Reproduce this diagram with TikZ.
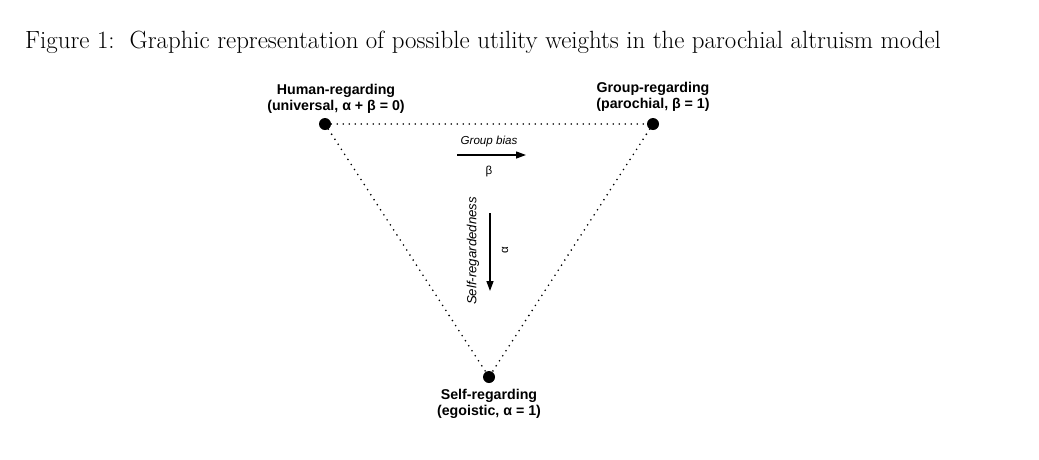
\documentclass[tikz,border=0pt]{standalone}
\usepackage{fontspec}
\newfontfamily\lab{Liberation Sans}
\usetikzlibrary{arrows.meta}
\tikzset{
  vertex/.style={circle,fill=black,inner sep=0pt,minimum size=12pt},
  lbl/.style={font=\lab\bfseries\fontsize{14.2}{16.5}\selectfont,align=center,inner sep=0pt},
  small/.style={font=\lab\fontsize{11.6}{13}\selectfont,inner sep=0pt},
  edge/.style={line width=1.8pt,line cap=round,dash pattern=on 0pt off 6pt},
  arr/.style={line width=1.3pt,-{Triangle[length=10pt,width=7pt]}}
}
\begin{document}
\begin{tikzpicture}[x=1pt,y=-1pt]
\useasboundingbox (0,0) rectangle (1039,459);
\node[anchor=base west,inner sep=0pt,font=\fontsize{24.9}{30}\selectfont] (title) at (25,48) {Figure 1:\ \ Graphic representation of possible utility weights in the parochial altruism model};
\node[vertex] (h) at (325,124) {};
\node[vertex] (g) at (653,124) {};
\node[vertex] (s) at (489,377) {};
\draw[edge] (h) -- (g);
\draw[edge] (h) -- (s);
\draw[edge] (g) -- (s);
\node[lbl] (hl) at (336,99) {Human-regarding\\(universal, α + β = 0)};
\node[lbl] (gl) at (653,97) {Group-regarding\\(parochial, β = 1)};
\node[lbl] (sl) at (489,404) {Self-regarding\\(egoistic, α = 1)};
\node[small,font=\lab\itshape\fontsize{11.6}{13}\selectfont] (gb) at (489,141) {Group bias};
\coordinate (ga) at (457,155);
\coordinate (gb2) at (526,155);
\draw[arr] (ga) -- (gb2);
\node[small] (beta) at (489,171) {β};
\node[small,font=\lab\itshape\fontsize{13.2}{15}\selectfont,rotate=90] (sr) at (473,251) {Self-regardedness};
\coordinate (sa) at (490,213);
\coordinate (sb) at (490,291);
\draw[arr] (sa) -- (sb);
\node[small,rotate=90] (alpha) at (505,250) {α};
\end{tikzpicture}
\end{document}
